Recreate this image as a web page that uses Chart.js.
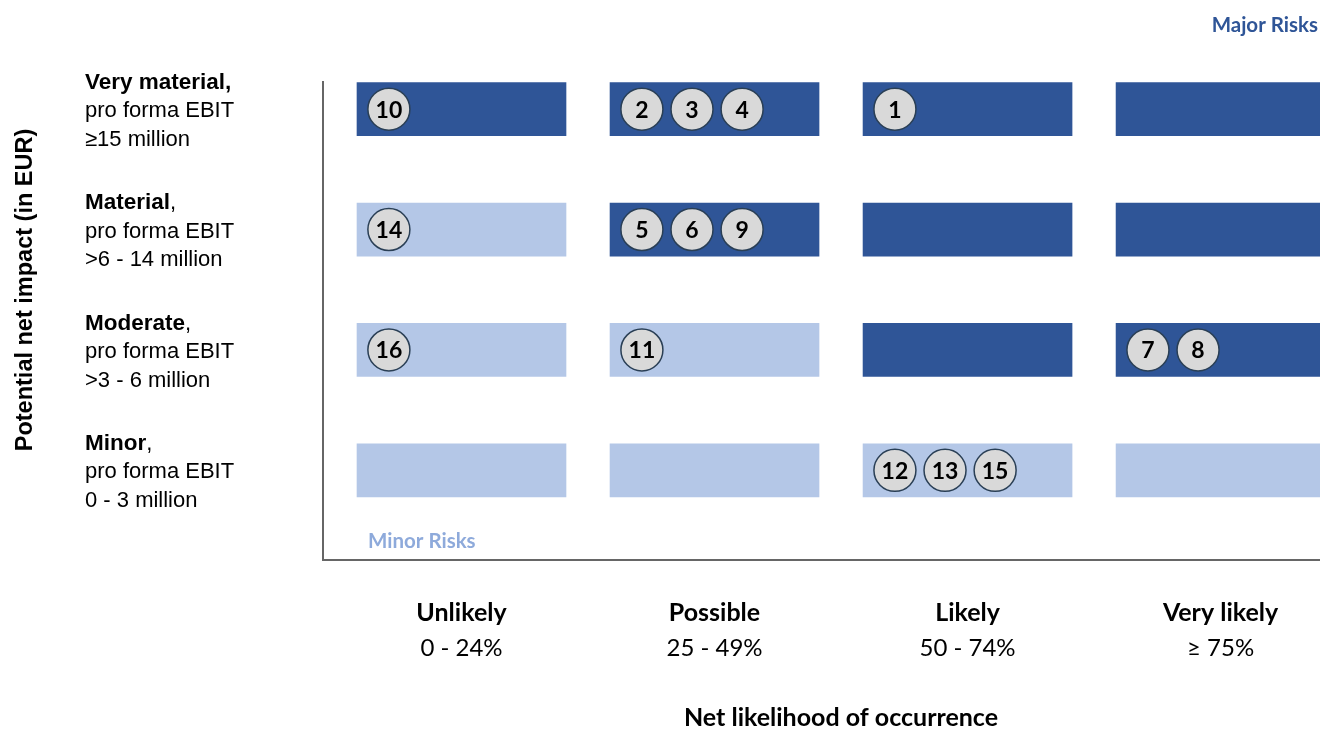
<!DOCTYPE html>
<html>
<head>
<meta charset="utf-8">
<script src="https://cdn.jsdelivr.net/npm/chart.js@4/dist/chart.umd.min.js"></script>
<style>
  html, body { margin: 0; padding: 0; background: #ffffff; overflow: hidden; }
  #wrap { width: 1320px; height: 729px; }
</style>
</head>
<body>
<div id="wrap"><canvas id="c" width="1320" height="729"></canvas></div>
<script>
// ---------------- DATA ----------------
const likelihoodNames  = ['Unlikely', 'Possible', 'Likely', 'Very likely'];
const likelihoodRanges = ['0 - 24%', '25 - 49%', '50 - 74%', '≥ 75%'];
// impact levels, bottom -> top
const impactNames  = ['Minor', 'Moderate', 'Material', 'Very material'];
const impactUnit   = 'pro forma EBIT';
const impactRanges = ['0 - 3 million', '>3 - 6 million', '>6 - 14 million', '≥15 million'];
// 1 = major-risk zone (dark), 0 = minor-risk zone (light); rows bottom -> top, columns by likelihood
const majorZoneMinor        = [0, 0, 0, 0];
const majorZoneModerate     = [0, 0, 1, 1];
const majorZoneMaterial     = [0, 1, 1, 1];
const majorZoneVeryMaterial = [1, 1, 1, 1];
const majorZone = [majorZoneMinor, majorZoneModerate, majorZoneMaterial, majorZoneVeryMaterial];

const riskIds        = [1, 2, 3, 4, 5, 6, 7, 8, 9, 10, 11, 12, 13, 14, 15, 16];
const riskLikelihood = ['Likely', 'Possible', 'Possible', 'Possible', 'Possible', 'Possible',
                        'Very likely', 'Very likely', 'Possible', 'Unlikely', 'Possible',
                        'Likely', 'Likely', 'Unlikely', 'Likely', 'Unlikely'];
const riskImpact     = ['Very material', 'Very material', 'Very material', 'Very material',
                        'Material', 'Material', 'Moderate', 'Moderate', 'Material',
                        'Very material', 'Moderate', 'Minor', 'Minor', 'Material', 'Minor', 'Moderate'];

const majorLabel = 'Major Risks';
const minorLabel = 'Minor Risks';
const xTitle = 'Net likelihood of occurrence';
const yTitle = 'Potential net impact (in EUR)';

// ---------------- STYLE ----------------
const DARK = '#2F5597';
const LIGHT = '#B4C7E7';
const CELL_HALF = 0.413;        // half cell width in likelihood-index units
const CELL_THICK = 53;          // px
const CIRCLE_X0 = -0.287;       // first circle offset from column centre
const CIRCLE_STEP = 0.198;      // spacing between circles
const ARIAL = '"Liberation Sans", Arial, sans-serif';
const CAL = 'Lato, "Open Sans", sans-serif';

// ---------------- BUILD ----------------
const cellData = [], cellColors = [];
impactNames.forEach((imp, r) => {
  likelihoodNames.forEach((lk, c) => {
    cellData.push({ y: r, x: [c - CELL_HALF, c + CELL_HALF] });
    cellColors.push(majorZone[r][c] ? DARK : LIGHT);
  });
});

const slotCount = {};
const riskPoints = riskIds.map((id, i) => {
  const c = likelihoodNames.indexOf(riskLikelihood[i]);
  const r = impactNames.indexOf(riskImpact[i]);
  const key = c + '_' + r;
  const slot = slotCount[key] || 0;
  slotCount[key] = slot + 1;
  return { x: c + CIRCLE_X0 + slot * CIRCLE_STEP, y: r, id: id };
});

const labelsPlugin = {
  id: 'riskLabels',
  afterDatasetsDraw(chart) {
    const ctx = chart.ctx;
    const xs = chart.scales.x, ys = chart.scales.y;
    const area = chart.chartArea;
    ctx.save();
    // numbers inside circles
    const meta = chart.getDatasetMeta(1);
    ctx.fillStyle = '#000';
    ctx.font = 'bold 23px ' + CAL;
    ctx.textAlign = 'center';
    ctx.textBaseline = 'middle';
    meta.data.forEach((pt, i) => {
      ctx.fillText(String(riskPoints[i].id), pt.x, pt.y + 1);
    });

    // left impact labels
    ctx.textAlign = 'left';
    ctx.textBaseline = 'middle';
    const LX = 85, LH = 28.5;
    impactNames.forEach((name, r) => {
      const cy = ys.getPixelForValue(r) + 2;
      const boldPart = r === 3 ? name + ',' : name;
      ctx.font = 'bold 22.5px ' + ARIAL;
      ctx.fillStyle = '#000';
      ctx.fillText(boldPart, LX, cy - LH);
      const w = ctx.measureText(boldPart).width;
      if (r !== 3) {
        ctx.font = '22px ' + ARIAL;
        ctx.fillText(',', LX + w, cy - LH);
      }
      ctx.font = '22px ' + ARIAL;
      ctx.fillText(impactUnit, LX, cy);
      ctx.fillText(impactRanges[r], LX, cy + LH);
    });

    // bottom likelihood labels
    ctx.textAlign = 'center';
    likelihoodNames.forEach((name, c) => {
      const cx = xs.getPixelForValue(c);
      ctx.font = 'bold 25px ' + CAL;
      ctx.fillStyle = '#000';
      ctx.fillText(name, cx, area.bottom + 53);
      ctx.font = '24px ' + CAL;
      ctx.fillText(likelihoodRanges[c], cx, area.bottom + 88);
    });

    // axis titles
    ctx.font = 'bold 25px ' + CAL;
    ctx.fillText(xTitle, 841, area.bottom + 158);
    ctx.save();
    ctx.translate(26, 290);
    ctx.rotate(-Math.PI / 2);
    ctx.font = 'bold 23.5px ' + ARIAL;
    ctx.fillText(yTitle, 0, 0);
    ctx.restore();

    // zone labels
    ctx.font = 'bold 20.5px ' + CAL;
    ctx.textAlign = 'right';
    ctx.fillStyle = DARK;
    ctx.fillText(majorLabel, 1318, 25);
    ctx.textAlign = 'left';
    ctx.fillStyle = '#8EAADB';
    ctx.fillText(minorLabel, 368, 541);
    ctx.restore();
  }
};

new Chart(document.getElementById('c'), {
  type: 'bar',
  data: {
    datasets: [
      {
        type: 'bar',
        data: cellData,
        backgroundColor: cellColors,
        borderWidth: 0,
        barThickness: CELL_THICK,
        grouped: false,
        indexAxis: 'y',
        order: 2
      },
      {
        type: 'scatter',
        data: riskPoints,
        pointRadius: 21,
        pointHoverRadius: 21,
        pointBackgroundColor: '#D9D9D9',
        pointBorderColor: '#2A3F55',
        pointBorderWidth: 1.5,
        showLine: false,
        order: 1
      }
    ]
  },
  options: {
    responsive: false,
    animation: false,
    devicePixelRatio: 1,
    indexAxis: 'y',
    layout: { autoPadding: false, padding: { left: 323, top: 82, right: 0, bottom: 169 } },
    plugins: { legend: { display: false }, tooltip: { enabled: false } },
    scales: {
      x: {
        type: 'linear', min: -0.5474, max: 3.393, offset: false,
        grid: { display: false, offset: false },
        ticks: { display: false },
        border: { display: true, color: '#666666', width: 2 },
        afterFit: s => { s.height = 0; }
      },
      y: {
        type: 'linear', min: -0.7446, max: 3.2255, offset: false,
        grid: { display: false, offset: false },
        ticks: { display: false },
        border: { display: true, color: '#666666', width: 2 },
        afterFit: s => { s.width = 0; }
      }
    }
  },
  plugins: [labelsPlugin]
});
</script>
</body>
</html>
